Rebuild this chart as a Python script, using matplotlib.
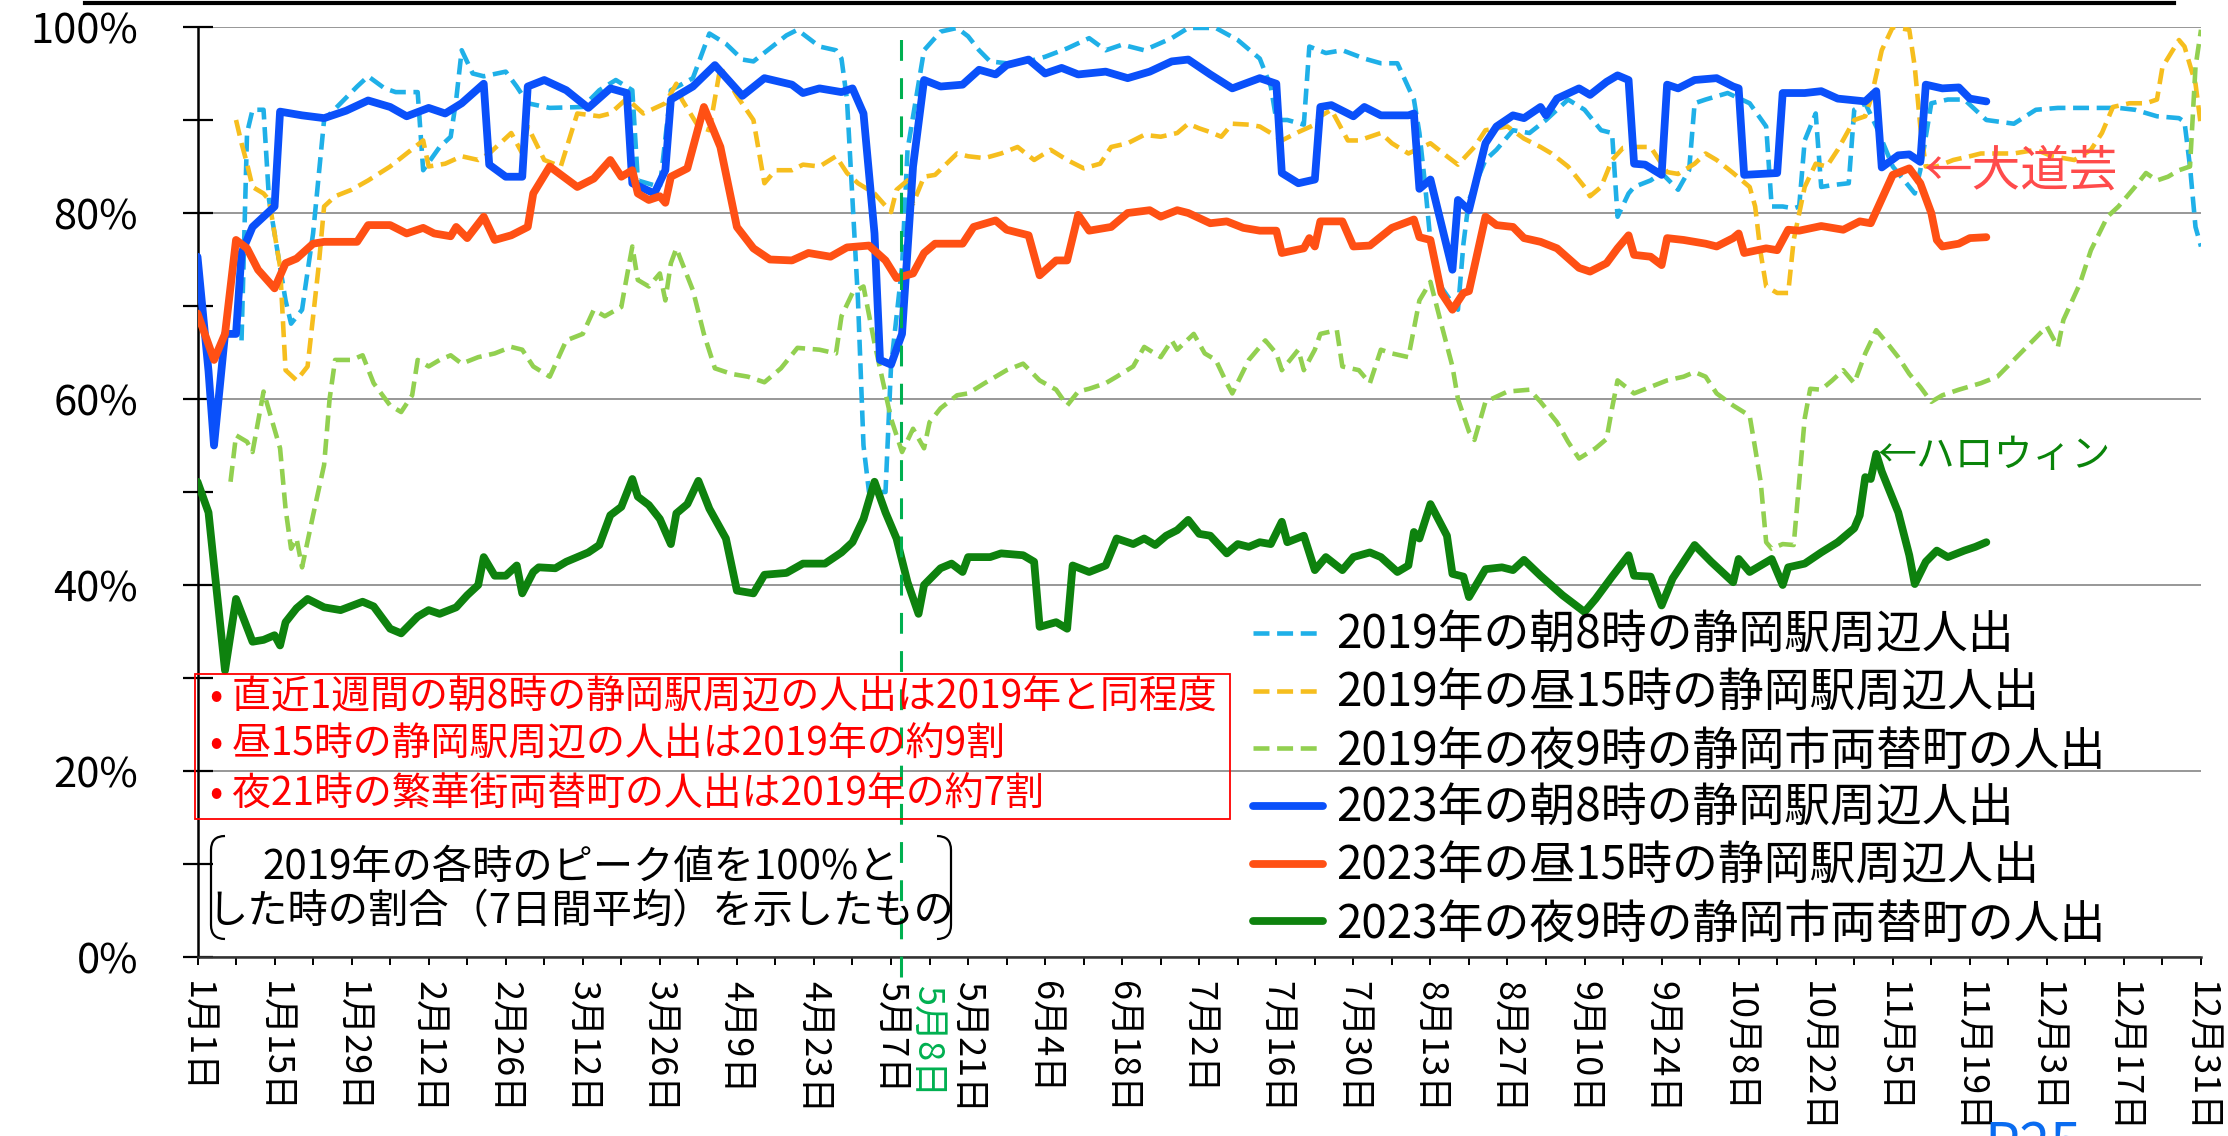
import matplotlib
matplotlib.use("Agg")
import matplotlib.pyplot as plt
from matplotlib.lines import Line2D
from matplotlib.patches import Rectangle, PathPatch
from matplotlib.path import Path

plt.rcParams['font.family'] = ['Noto Sans CJK JP', 'DejaVu Sans']
plt.rcParams['lines.scale_dashes'] = False

# ---------------- data (day index from Jan 1, value in %) ----------------
x_tick_days = list(range(0, 365, 14))
x_tick_labels = ['1月1日', '1月15日', '1月29日', '2月12日', '2月26日', '3月12日', '3月26日',
                 '4月9日', '4月23日', '5月7日', '5月21日', '6月4日', '6月18日', '7月2日',
                 '7月16日', '7月30日', '8月13日', '8月27日', '9月10日', '9月24日', '10月8日',
                 '10月22日', '11月5日', '11月19日', '12月3日', '12月17日', '12月31日']
y_ticks = [0, 20, 40, 60, 80, 100]
y_tick_labels = ['0%', '20%', '40%', '60%', '80%', '100%']
marker_day = 127.8
marker_label = '5月8日'

c19 = [(8,66.3),(9,88.6),(10,91.1),(12,91.1),(13,81.4),(16,70.6),(17,68.1),(19,69.6),(21,77.8),(23,90),(26,91.8),(29,93.6),(31,94.7),(34,93.4),(36,93),(40,93),(41,84.6),(44,87.1),(46,88.2),(47,92.2),(48,97.5),(50,95),(52,94.7),(56,95.2),(58,93.6),(60,91.8),(64,91.3),(70,91.4),(73,93.2),(76,94.3),(79,93.2),(80,83.5),(84,82.8),(86,93.2),(90,94.5),(93,99.3),(96,98.2),(99,96.5),(101,96.3),(104,97.7),(107,99.1),(109,99.7),(113,97.9),(116,97.5),(117,96.6),(118,92.2),(119,81.4),(120,70.6),(121,55),(122,50),(125,50),(126,63.5),(128,74.2),(129,86.8),(132,97.5),(135,99.5),(138,99.9),(140,99),(142,97.5),(144,96.3),(147,96.1),(151,96.3),(154,96.8),(158,97.7),(162,98.8),(165,97.5),(168,98.1),(172,97.5),(177,98.8),(180,99.9),(185,99.9),(189,98.6),(193,96.6),(195,93.6),(196,90),(198,90),(201,89.5),(202,97.9),(205,97.2),(208,97.5),(212,96.6),(215,96.1),(218,96.1),(221,92.2),(222,88.6),(223,83.2),(224,77),(226,72),(228,70.3),(229,69.6),(230,76.7),(231,81.4),(234,85.7),(236,86.8),(239,88.9),(242,88.6),(245,90),(249,92.2),(252,91.1),(255,88.9),(257,88.6),(258,79.6),(260,82.1),(261,82.8),(264,83.5),(266,84.3),(269,82.5),(271,84.6),(272,91.8),(274,92.2),(278,92.9),(282,91.8),(285,89.3),(286,80.7),(288,80.7),(290,80.5),(291,80.7),(292,87.8),(294,90.7),(295,82.8),(297,83),(300,83.2),(301,91.1),(303,91.8),(305,89.3),(308,85),(312,82.1),(313,84.6),(315,91.8),(318,92.2),(321,92.2),(325,90),(330,89.6),(334,91.1),(338,91.3),(343,91.3),(349,91.3),(352,91.1),(356,90.4),(360,90.2),(361,89.8),(362,85),(363,78.5),(364,76.4)]

y19 = [(7,90),(8,87.5),(9,85.3),(10,82.8),(12,82.1),(13,81.4),(15,74.2),(16,63.1),(18,62),(20,63.5),(22,74.2),(23,80.7),(25,81.8),(28,82.5),(31,83.5),(35,85),(38,86.4),(41,87.8),(42,85),(45,85.3),(48,86.1),(51,85.7),(53,86.4),(57,88.6),(59,86.4),(60,89.3),(63,85.7),(66,85),(69,90.7),(73,90.4),(75,90.7),(78,92.3),(81,90.7),(85,91.8),(87,93.9),(88,92.2),(91,89.3),(93,88.9),(95,95.7),(98,92.6),(101,90),(103,83.2),(105,84.6),(108,84.6),(110,85.2),(113,85),(116,86.1),(118,84.3),(120,83.2),(123,82.1),(126,80.1),(127,82.5),(129,83.5),(130,81),(132,83.9),(134,84.1),(138,86.4),(140,86.1),(143,85.9),(146,86.4),(149,87.1),(152,85.7),(155,86.8),(158,85.7),(161,84.8),(164,85.3),(166,87.1),(169,87.5),(172,88.4),(175,88.2),(178,88.6),(180,89.6),(182,89.1),(184,88.7),(186,88.2),(188,89.6),(191,89.5),(193,89.3),(195,88.6),(197,87.8),(200,88.7),(203,89.5),(204,90.4),(206,91.1),(209,87.8),(211,87.8),(215,88.6),(217,87.5),(220,86.4),(224,87.5),(227,86.1),(229,85.2),(232,87.1),(234,88.9),(238,89.3),(241,88),(244,87.1),(246,86.4),(249,85),(252,82.8),(253,81.8),(255,82.8),(257,85.7),(259,87),(261,87.1),(264,87.1),(267,84.4),(269,84.2),(272,85.3),(274,86.4),(276,85.7),(279,84.3),(282,82.8),(283,80.7),(284,75.7),(285,72.1),(287,71.4),(289,71.4),(290,77.1),(292,82.8),(294,85.3),(296,85),(298,86.8),(301,90),(303,90.4),(304,92.2),(306,97.5),(308,100),(311,99.7),(312,95.7),(313,89.3),(314,85),(316,85),(319,85.7),(322,86.1),(324,86.4),(327,86.4),(330,86.4),(334,86.8),(337,86.1),(341,85.7),(344,86.8),(346,88.6),(348,91.4),(351,91.8),(354,91.8),(356,92.2),(357,95.7),(360,98.6),(361,97.9),(363,93.9),(364,89.3)]

g19 = [(6,51.1),(7,56.1),(9,55.4),(10,54.3),(12,60.8),(15,54.7),(16,48.2),(17,43.9),(18,45),(19,41.9),(21,47.5),(23,52.9),(24,60),(25,64.2),(28,64.2),(30,64.7),(32,61.7),(35,59.3),(37,58.6),(39,60.4),(40,64.2),(42,63.5),(44,64.2),(46,64.7),(48,63.8),(51,64.5),(54,64.9),(57,65.6),(59,65.3),(61,63.5),(64,62.4),(67,66.3),(70,67),(72,69.6),(74,68.9),(77,69.9),(79,76.4),(80,72.8),(82,72.1),(84,73.5),(85,70.6),(86,74.6),(87,76.2),(90,71.7),(92,67),(94,63.3),(97,62.7),(100,62.4),(103,61.8),(106,63.3),(109,65.5),(113,65.3),(116,64.9),(117,68.9),(119,71.4),(121,72.1),(123,66),(126,57.9),(127,56.1),(128,54.3),(130,56.8),(132,54.7),(133,57.5),(135,59),(138,60.4),(140,60.6),(143,61.7),(147,63.1),(150,63.8),(153,62),(156,61),(158,59.3),(160,60.8),(162,61.1),(165,61.7),(167,62.4),(170,63.5),(172,65.6),(175,64.5),(177,66.3),(178,65.3),(181,67),(183,64.9),(185,64.2),(187,61.7),(188,60.6),(191,64.2),(192,64.9),(194,66.3),(196,64.9),(197,63.1),(200,65.3),(201,63.1),(203,65.3),(204,67),(207,67.4),(208,63.5),(211,63.1),(213,61.7),(215,65.3),(217,64.9),(220,64.5),(222,70.6),(224,72.6),(226,68),(228,63.5),(229,60),(231,56.5),(232,55.6),(234,59.7),(238,60.8),(242,61),(244,59.7),(247,57.5),(249,55.4),(251,53.6),(254,54.7),(256,55.7),(257,59),(258,62),(261,60.6),(264,61.3),(267,62),(270,62.4),(272,62.9),(274,62.4),(276,60.6),(279,59.3),(282,58.2),(283,54.7),(284,51.1),(285,44.6),(286,43.9),(288,44.4),(290,44.3),(291,51.1),(292,57.9),(293,61.1),(295,61),(297,62),(299,63.1),(301,61.7),(303,64.9),(305,67.4),(307,66),(309,64.5),(311,62.7),(313,61.3),(315,59.7),(317,60.4),(320,61),(324,61.7),(327,62.4),(330,64.2),(333,66),(336,67.8),(338,65.6),(339,68.5),(342,72.4),(344,76),(347,79.6),(349,80.7),(352,82.8),(354,84.3),(356,83.5),(358,83.9),(360,84.6),(362,85),(363,95.7),(364,99.7)]

b23 = [(0,75.3),(2,63),(3,55),(5,67),(7,67),(8,75.7),(10,78.5),(14,80.7),(15,90.9),(19,90.5),(23,90.2),(27,91),(31,92.1),(35,91.4),(38,90.4),(42,91.3),(45,90.7),(48,91.8),(52,93.9),(53,85.2),(56,83.9),(59,83.9),(60,93.6),(63,94.3),(67,93.2),(71,91.3),(75,93.4),(78,92.9),(79,83.2),(83,82.1),(85,84.6),(86,92.2),(90,93.6),(94,95.9),(99,92.6),(103,94.5),(108,93.8),(110,92.9),(113,93.4),(117,93),(119,93.4),(121,90.7),(123,77.8),(124,64.2),(126,63.7),(128,67),(130,85),(132,94.3),(135,93.6),(139,93.8),(142,95.4),(145,94.9),(147,95.9),(151,96.5),(154,95),(157,95.6),(160,94.9),(165,95.2),(169,94.5),(173,95.2),(177,96.3),(180,96.5),(184,94.9),(188,93.4),(193,94.5),(196,93.9),(197,84.3),(200,83.2),(203,83.6),(204,91.4),(206,91.6),(210,90.4),(212,91.4),(215,90.5),(220,90.5),(221,90.7),(222,82.6),(224,83.6),(228,73.9),(229,81.4),(231,80.3),(234,87.5),(236,89.3),(239,90.5),(241,90.2),(244,91.4),(245,90.5),(247,92.3),(251,93.4),(253,92.7),(256,94.1),(258,94.8),(260,94.3),(261,85.3),(263,85.2),(266,84.1),(267,93.8),(269,93.4),(272,94.3),(276,94.5),(279,93.6),(280,93.4),(281,84.1),(287,84.3),(288,92.9),(292,92.9),(295,93.1),(298,92.3),(303,92),(305,93.1),(306,84.9),(309,86.2),(311,86.3),(313,85.5),(314,93.8),(317,93.4),(320,93.5),(322,92.3),(325,92)]

o23 = [(0,69.2),(3,64.2),(5,67),(7,77.1),(9,76.2),(11,73.9),(14,71.9),(16,74.6),(18,75.1),(21,76.7),(23,76.9),(29,76.9),(31,78.7),(35,78.7),(38,77.8),(41,78.4),(43,77.8),(46,77.5),(47,78.5),(49,77.3),(52,79.6),(54,77.1),(57,77.6),(60,78.5),(61,82.1),(64,85),(69,82.8),(72,83.7),(75,85.7),(77,83.9),(79,84.6),(80,82.1),(82,81.4),(84,81.8),(85,81.1),(86,83.9),(89,84.8),(92,91.4),(95,87.1),(98,78.5),(101,76.2),(104,75),(108,74.9),(111,75.7),(115,75.3),(118,76.3),(122,76.5),(125,74.9),(127,73),(130,73.5),(132,75.7),(134,76.7),(139,76.7),(141,78.5),(145,79.2),(147,78.2),(151,77.6),(153,73.3),(156,74.9),(158,74.9),(160,79.8),(162,78.1),(166,78.5),(169,80),(173,80.3),(175,79.6),(178,80.3),(180,80),(184,78.9),(187,79.1),(190,78.4),(193,78.1),(196,78.1),(197,75.7),(201,76.2),(202,77.3),(203,76.4),(204,79.1),(208,79.1),(210,76.4),(213,76.5),(217,78.4),(221,79.3),(222,77.4),(224,77.1),(226,71.4),(228,69.6),(230,71.4),(231,71.6),(234,79.6),(236,78.7),(239,78.5),(241,77.3),(244,76.9),(247,76.2),(251,74.1),(253,73.7),(256,74.6),(258,76.2),(260,77.6),(261,75.5),(264,75.3),(266,74.4),(267,77.3),(270,77.1),(274,76.7),(276,76.4),(279,77.3),(280,77.8),(281,75.7),(285,76.2),(287,76),(289,78.2),(291,78.1),(295,78.6),(299,78.2),(302,79.1),(304,78.9),(308,84.1),(311,84.8),(313,83.2),(315,80),(316,77.1),(317,76.4),(320,76.7),(322,77.3),(325,77.4)]

n23 = [(0,51.1),(2,47.8),(5,30.8),(7,38.5),(10,33.9),(12,34.1),(14,34.6),(15,33.5),(16,36),(18,37.5),(20,38.5),(23,37.6),(26,37.3),(30,38.2),(32,37.7),(35,35.3),(37,34.8),(40,36.6),(42,37.3),(44,36.9),(47,37.6),(49,38.9),(51,40),(52,43),(54,41),(56,41),(58,42.1),(59,39.1),(61,41.4),(62,41.9),(65,41.8),(67,42.5),(71,43.5),(73,44.3),(75,47.5),(77,48.4),(79,51.4),(80,49.5),(82,48.6),(84,47.1),(86,44.4),(87,47.7),(89,48.7),(91,51.2),(93,48.2),(96,45),(98,39.4),(101,39.1),(103,41.1),(107,41.3),(110,42.3),(114,42.3),(117,43.5),(119,44.6),(121,47.1),(123,51.1),(125,47.8),(127,45),(129,40.3),(131,36.9),(132,40),(135,41.8),(137,42.3),(139,41.4),(140,43),(144,43),(146,43.4),(150,43.2),(152,42.5),(153,35.5),(156,36),(158,35.3),(159,42.1),(162,41.4),(165,42.1),(167,45),(170,44.4),(172,45),(174,44.3),(176,45.3),(178,45.9),(180,47),(182,45.5),(184,45.3),(187,43.4),(189,44.4),(191,44.1),(193,44.6),(195,44.4),(197,46.8),(198,44.6),(201,45.3),(203,41.6),(205,43),(208,41.6),(210,43),(213,43.5),(215,43),(218,41.4),(220,42.1),(221,45.7),(222,45),(224,48.7),(227,45.3),(228,41.2),(230,40.9),(231,38.7),(234,41.7),(237,41.9),(239,41.6),(241,42.7),(244,41),(248,38.9),(252,37.1),(254,38.5),(257,40.9),(260,43.2),(261,41),(264,40.9),(266,37.8),(268,40.7),(272,44.3),(275,42.5),(279,40.3),(280,42.8),(282,41.4),(286,42.8),(288,40),(289,41.9),(292,42.3),(295,43.5),(298,44.6),(301,46.1),(302,47.5),(303,51.6),(304,51.4),(305,54.1),(306,52.2),(309,47.8),(311,43.2),(312,40.1),(314,42.5),(316,43.7),(318,43),(321,43.7),(323,44.1),(325,44.6)]

series_labels = ['2019年の朝8時の静岡駅周辺人出', '2019年の昼15時の静岡駅周辺人出',
                 '2019年の夜9時の静岡市両替町の人出', '2023年の朝8時の静岡駅周辺人出',
                 '2023年の昼15時の静岡駅周辺人出', '2023年の夜9時の静岡市両替町の人出']
series_colors = ['#1FB0E8', '#F6BE1E', '#92D050', '#0A50FA', '#FF5014', '#0E820E']

box_lines = ['• 直近1週間の朝8時の静岡駅周辺の人出は2019年と同程度',
             '• 昼15時の静岡駅周辺の人出は2019年の約9割',
             '• 夜21時の繁華街両替町の人出は2019年の約7割']
note_lines = ['2019年の各時のピーク値を100%と', 'した時の割合（7日間平均）を示したもの']

# ---------------- figure ----------------
W, H = 2228, 1136
fig = plt.figure(figsize=(W / 100, H / 100), dpi=100)
fig.patch.set_facecolor('white')


def fx(x):
    return x / W


def fy(y):
    return 1 - y / H


ax = fig.add_axes([fx(197.5), fy(957), (2201 - 197.5) / W, (957 - 27) / H])
ax.set_xlim(0, 364)
ax.set_ylim(0, 100)

handles = []
for data, lab, col in zip([c19, y19, g19], series_labels[:3], series_colors[:3]):
    d = [p[0] for p in data]
    v = [p[1] for p in data]
    ln, = ax.plot(d, v, color=col, lw=3.3, dashes=(11.5, 5.5), label=lab, zorder=2)
    handles.append(ln)
for data, lab, col in zip([b23, o23, n23], series_labels[3:], series_colors[3:]):
    d = [p[0] for p in data]
    v = [p[1] for p in data]
    ln, = ax.plot(d, v, color=col, lw=5.6, label=lab, zorder=3,
                  solid_joinstyle='round', solid_capstyle='round')
    handles.append(ln)

# axes styling
for s in ['top', 'right']:
    ax.spines[s].set_visible(False)
ax.spines['left'].set_linewidth(1.8)
ax.spines['bottom'].set_linewidth(1.8)
ax.spines['bottom'].set_color('#333333')

ax.set_yticks(y_ticks)
ax.set_yticklabels(y_tick_labels)
ax.set_yticks([10, 30, 50, 70, 90], minor=True)
ax.tick_params(axis='y', which='both', direction='inout', length=21.6, width=1.6, color='black')
ax.tick_params(axis='y', which='major', labelsize=30, pad=32)
ax.grid(axis='y', which='major', color='#8f8f8f', lw=1.3)
ax.set_axisbelow(True)

ax.set_xticks(x_tick_days)
ax.set_xticklabels(x_tick_labels)
ax.set_xticks(list(range(0, 365, 7)), minor=True)
ax.tick_params(axis='x', which='both', direction='out', length=6, width=1.4, color='black')
ax.tick_params(axis='x', which='major', labelsize=26, labelrotation=270, pad=11)

# marker line (May 8)
ax.axvline(marker_day, ymin=-0.0215, ymax=1.0, color='#00B050', lw=2.2,
           dashes=(15, 12.5), clip_on=False, zorder=4)
ax.text(marker_day + 4.7, -0.030, marker_label, transform=ax.get_xaxis_transform(),
        rotation=270, ha='center', va='top', fontsize=26, color='#00B050')

# event annotations
ax.text(313.5, 84.4, '←大道芸', color='#FF4B4B', fontsize=35, ha='left', va='center', zorder=5)
ax.text(305.2, 53.9, '←ハロウィン', color='#0A840A', fontsize=28, ha='left', va='center', zorder=5)

# legend
leg = ax.legend(handles, series_labels, loc='center left',
                bbox_to_anchor=(fx(1253), fy(780)), bbox_transform=fig.transFigure,
                frameon=False, fontsize=33, handlelength=1.53, handletextpad=0.28,
                labelspacing=0.2, borderpad=0, borderaxespad=0)

# red comment box
fig.add_artist(Rectangle((fx(195), fy(819)), fx(1230) - fx(195), (819 - 674) / H,
                         transform=fig.transFigure, fill=False, ec='red', lw=1.3))
for yy, line in zip([698, 745, 795], box_lines):
    fig.text(fx(210), fy(yy), line, color='red', fontsize=28, ha='left', va='center')

# note with brackets
for yy, line in zip([868, 912], note_lines):
    fig.text(fx(581), fy(yy), line, color='black', fontsize=29, ha='center', va='center')


def bracket(x_out, x_in, y0, y1):
    verts = [(x_in, y0), (x_out, y0), (x_out, y0 + 14), (x_out, y1 - 14),
             (x_out, y1), (x_in, y1)]
    verts = [(fx(a), fy(b)) for a, b in verts]
    codes = [Path.MOVETO, Path.CURVE3, Path.CURVE3, Path.LINETO, Path.CURVE3, Path.CURVE3]
    return PathPatch(Path(verts, codes), transform=fig.transFigure, fill=False,
                     ec='black', lw=1.6)


fig.add_artist(bracket(211, 225, 836, 939))
fig.add_artist(bracket(951, 937, 836, 939))

# top rule and page tag (cut by the lower edge, as in the source slide)
fig.add_artist(Line2D([fx(85), fx(2174)], [fy(3), fy(3)], transform=fig.transFigure,
                      color='black', lw=3))
fig.text(fx(1984), fy(1164), 'P25', color='#0A6CF0', fontsize=40, ha='left', va='baseline')

fig.savefig('out.png', dpi=100)
